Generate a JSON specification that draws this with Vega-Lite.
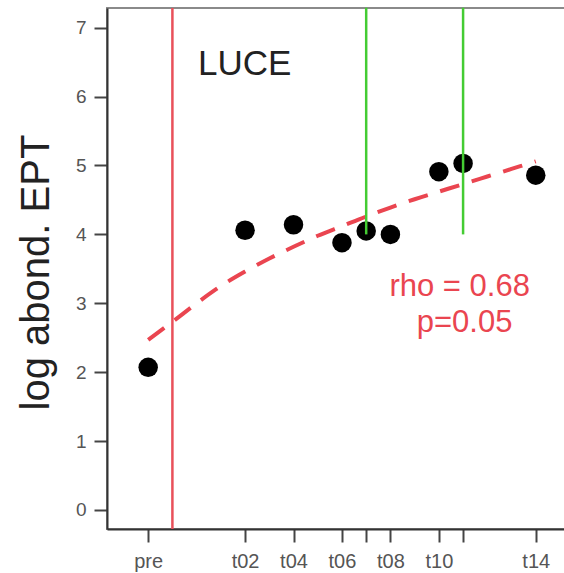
{
  "$schema": "https://vega.github.io/schema/vega-lite/v6.json",
  "width": 460,
  "height": 521,
  "autosize": {"type": "none"},
  "padding": {"left": 107, "top": 8, "right": 0, "bottom": 44},
  "background": "white",
  "config": {
    "font": "Liberation Sans",
    "view": {"stroke": "#8a8a8a", "strokeWidth": 2}
  },
  "datasets": {
    "pts": [
      {"t": -2, "v": 2.07},
      {"t": 2, "v": 4.06},
      {"t": 4, "v": 4.14},
      {"t": 6, "v": 3.88},
      {"t": 7, "v": 4.05},
      {"t": 8, "v": 4.0},
      {"t": 10, "v": 4.91},
      {"t": 11, "v": 5.03},
      {"t": 14, "v": 4.86}
    ],
    "curve": [
      {"t": -2, "v": 2.47},
      {"t": -1, "v": 2.73},
      {"t": 0, "v": 3.0},
      {"t": 1, "v": 3.25},
      {"t": 2, "v": 3.46},
      {"t": 3, "v": 3.65},
      {"t": 4, "v": 3.82},
      {"t": 5, "v": 3.98},
      {"t": 6, "v": 4.12},
      {"t": 7, "v": 4.26},
      {"t": 8, "v": 4.39},
      {"t": 9, "v": 4.51},
      {"t": 10, "v": 4.62},
      {"t": 11, "v": 4.73},
      {"t": 12, "v": 4.84},
      {"t": 13, "v": 4.95},
      {"t": 14, "v": 5.06}
    ],
    "green": [
      {"t": 7, "v": 4.0, "v2": 7.29},
      {"t": 11, "v": 4.0, "v2": 7.29}
    ],
    "red": [{"t": -1}],
    "luce": [{"t": 0.06, "v": 6.31, "label": "LUCE"}],
    "stats": [
      {"t": 10.86, "v": 3.11, "label": "rho = 0.68"},
      {"t": 11.06, "v": 2.58, "label": "p=0.05"}
    ]
  },
  "layer": [
    {
      "data": {"name": "pts"},
      "mark": {"type": "point", "filled": true, "color": "black", "size": 380, "opacity": 1},
      "encoding": {
        "x": {
          "field": "t", "type": "quantitative",
          "scale": {"domain": [-3.7, 15.29], "nice": false, "zero": false},
          "axis": {
            "title": null,
            "values": [-2, 2, 4, 6, 7, 8, 10, 11, 14],
            "labelExpr": "datum.value == -2 ? 'pre' : (datum.value == 7 || datum.value == 11) ? '' : 't' + (datum.value < 10 ? '0' : '') + datum.value",
            "grid": false,
            "domainColor": "#333333",
            "domainWidth": 2,
            "tickColor": "#444444",
            "tickWidth": 2,
            "tickSize": 13,
            "labelFontSize": 20,
            "labelColor": "#555555",
            "labelPadding": 9,
            "labelFlush": false,
            "labelOverlap": false
          }
        },
        "y": {
          "field": "v", "type": "quantitative",
          "scale": {"domain": [-0.276, 7.286], "nice": false, "zero": false},
          "axis": {
            "title": "log abond. EPT",
            "values": [0, 1, 2, 3, 4, 5, 6, 7],
            "format": "d",
            "grid": false,
            "domainColor": "#333333",
            "domainWidth": 2,
            "tickColor": "#444444",
            "tickWidth": 2,
            "tickSize": 13,
            "labelFontSize": 19,
            "labelColor": "#555555",
            "labelPadding": 8,
            "labelFlush": false,
            "titleFontSize": 40,
            "titleFontWeight": "normal",
            "titleColor": "#222222",
            "titleX": -71,
            "titleY": 264,
            "titleAngle": -90,
            "titleAlign": "center",
            "titleBaseline": "middle"
          }
        }
      }
    },
    {
      "data": {"name": "curve"},
      "mark": {"type": "line", "color": "#ea4550", "strokeWidth": 4, "strokeDash": [20, 13], "interpolate": "monotone"},
      "encoding": {
        "x": {"field": "t", "type": "quantitative"},
        "y": {"field": "v", "type": "quantitative"}
      }
    },
    {
      "data": {"name": "red"},
      "mark": {"type": "rule", "color": "#e9505a", "strokeWidth": 2.5},
      "encoding": {
        "x": {"field": "t", "type": "quantitative"}
      }
    },
    {
      "data": {"name": "green"},
      "mark": {"type": "rule", "color": "#44cc33", "strokeWidth": 2.5},
      "encoding": {
        "x": {"field": "t", "type": "quantitative"},
        "y": {"field": "v", "type": "quantitative"},
        "y2": {"field": "v2"}
      }
    },
    {
      "data": {"name": "luce"},
      "mark": {"type": "text", "align": "left", "baseline": "alphabetic", "fontSize": 35, "color": "#222222"},
      "encoding": {
        "x": {"field": "t", "type": "quantitative"},
        "y": {"field": "v", "type": "quantitative"},
        "text": {"field": "label"}
      }
    },
    {
      "data": {"name": "stats"},
      "mark": {"type": "text", "align": "center", "baseline": "alphabetic", "fontSize": 31, "color": "#ea4550"},
      "encoding": {
        "x": {"field": "t", "type": "quantitative"},
        "y": {"field": "v", "type": "quantitative"},
        "text": {"field": "label"}
      }
    }
  ]
}
